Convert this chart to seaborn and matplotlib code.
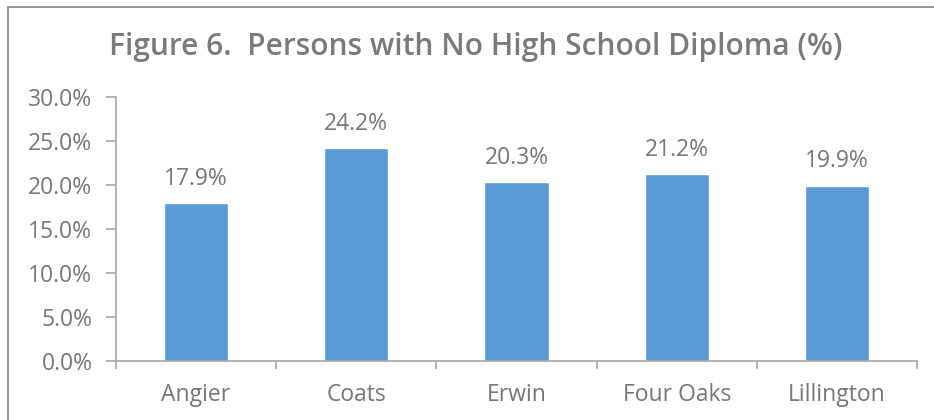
import matplotlib
matplotlib.use("Agg")
import matplotlib.pyplot as plt
import seaborn as sns
import pandas as pd
from matplotlib.patches import Rectangle
from matplotlib.ticker import FuncFormatter, FixedLocator

towns = ["Angier", "Coats", "Erwin", "Four Oaks", "Lillington"]
pct_no_diploma = [17.9, 24.2, 20.3, 21.2, 19.9]
y_ticks = [0, 5, 10, 15, 20, 25, 30]
title = "Figure 6.  Persons with No High School Diploma (%)"

sns.set_theme(style="white")
plt.rcParams["font.family"] = ["Open Sans", "DejaVu Sans"]

text_color = "#767676"
title_color = "#7A7A7A"
axis_color = "#A6A6A6"
bar_color = "#5B9BD5"

df = pd.DataFrame({"town": towns, "pct": pct_no_diploma})

fig = plt.figure(figsize=(9.34, 4.2), dpi=100)
ax = fig.add_axes([116/934, 59/420, (917-116)/934, (361-97)/420])

sns.barplot(data=df, x="town", y="pct", color=bar_color, saturation=1,
            width=0.4, ax=ax)

ax.set_ylim(0, 30)
ax.set_xlim(-0.5, len(towns) - 0.5)
ax.yaxis.set_major_locator(FixedLocator(y_ticks))
ax.yaxis.set_major_formatter(FuncFormatter(lambda v, p: f"{v:.1f}%"))
ax.set_xlabel("")
ax.set_ylabel("")

for s in ["top", "right"]:
    ax.spines[s].set_visible(False)
for s in ["left", "bottom"]:
    ax.spines[s].set_color(axis_color)
    ax.spines[s].set_linewidth(1.2)

ax.tick_params(axis="y", which="major", left=True, length=7, width=1.2,
               color=axis_color, labelcolor=text_color, labelsize=16.5, pad=10)
ax.tick_params(axis="x", which="major", bottom=False, labelcolor=text_color,
               labelsize=16.5, pad=10)
ax.set_xticks(range(len(towns)))
ax.set_xticklabels(towns)
ax.set_xticks([i - 0.5 for i in range(len(towns) + 1)], minor=True)
ax.tick_params(axis="x", which="minor", bottom=True, length=6, width=1.2,
               color=axis_color)

for i, v in enumerate(pct_no_diploma):
    ax.annotate(f"{v:.1f}%", (i, v), xytext=(0, 9), textcoords="offset points",
                ha="center", va="bottom", fontsize=16.5, color=text_color)

fig.text(476/934, 1 - 47/420, title, ha="center", va="center",
         fontsize=21.5, color=title_color, fontweight="semibold")

fig.patches.append(Rectangle((8/934, -0.1), 1.2, 1 - 7/420 + 0.1,
                             transform=fig.transFigure, fill=False,
                             edgecolor="#8C8C8C", linewidth=1.3))

fig.savefig("out.png", dpi=100)
